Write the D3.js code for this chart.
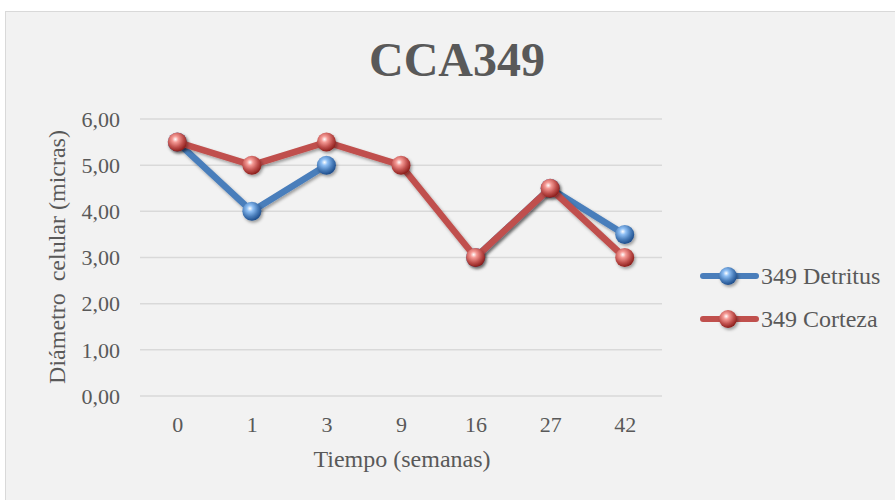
<!DOCTYPE html>
<html>
<head>
<meta charset="utf-8">
<script src="https://cdn.jsdelivr.net/npm/d3@7"></script>
<style>
  body { margin: 0; background: #fff; }
  text { font-family: "Liberation Serif", "Times New Roman", serif; fill: #595959; }
</style>
</head>
<body>
<div id="chart"></div>
<script>
// data
let weeks = ["0", "1", "3", "9", "16", "27", "42"]
let detritus = [5.5, 4.0, 5.0, null, 3.0, 4.5, 3.5]
let corteza = [5.5, 5.0, 5.5, 5.0, 3.0, 4.5, 3.0]
let yTicks = [0, 1, 2, 3, 4, 5, 6]

let series = [
  { name: "349 Detritus", values: detritus, color: "#4a7ebb", grad: "gBlue", light: "#8fc0f5", dark: "#1f4e8c" },
  { name: "349 Corteza", values: corteza, color: "#c0504d", grad: "gRed", light: "#f59a95", dark: "#8c1f1c" }
]

let W = 895, H = 500

let svg = d3.select("#chart").append("svg")
  .attr("width", W)
  .attr("height", H)

let defs = svg.append("defs")
series.forEach(s => {
  let g = defs.append("radialGradient")
    .attr("id", s.grad)
    .attr("cx", "40%").attr("cy", "35%").attr("r", "65%")
  g.append("stop").attr("offset", "0%").attr("stop-color", "#ffffff")
  g.append("stop").attr("offset", "25%").attr("stop-color", s.light)
  g.append("stop").attr("offset", "65%").attr("stop-color", s.color)
  g.append("stop").attr("offset", "100%").attr("stop-color", s.dark)
})
let f = defs.append("filter").attr("id", "shadow")
  .attr("x", "-50%").attr("y", "-50%").attr("width", "200%").attr("height", "200%")
f.append("feDropShadow")
  .attr("dx", 1.5).attr("dy", 2).attr("stdDeviation", 1.5)
  .attr("flood-color", "#000").attr("flood-opacity", 0.35)

// chart area background
svg.append("rect")
  .attr("x", 5.5).attr("y", 11.5)
  .attr("width", W).attr("height", H)
  .attr("fill", "#f2f2f2")
  .attr("stroke", "#d9d9d9")

// scales
let x = d3.scalePoint()
  .domain(weeks)
  .range([140, 662])
  .padding(0.5)

let y = d3.scaleLinear()
  .domain([0, 6])
  .range([396, 119])

// gridlines
svg.append("g")
  .selectAll("line")
  .data(yTicks)
  .enter()
  .append("line")
  .attr("x1", 140).attr("x2", 662)
  .attr("y1", d => y(d)).attr("y2", d => y(d))
  .attr("stroke", "#d9d9d9")
  .attr("stroke-width", 1.5)

// y axis labels
let fmt = d => d.toFixed(2).replace(".", ",")
let yAxis = svg.append("g")
  .attr("transform", "translate(120,0)")
  .call(d3.axisLeft(y).tickValues(yTicks).tickFormat(fmt).tickSize(0).tickPadding(0))
yAxis.select(".domain").remove()
yAxis.selectAll("text")
  .attr("font-size", 22)
  .attr("dy", "0.33em")

// x axis labels
let xAxis = svg.append("g")
  .attr("transform", "translate(0,432)")
  .call(d3.axisBottom(x).tickSize(0).tickPadding(0))
xAxis.select(".domain").remove()
xAxis.selectAll("text")
  .attr("font-size", 22)
  .attr("dy", "0em")

// titles
svg.append("text")
  .attr("x", 457).attr("y", 76)
  .attr("text-anchor", "middle")
  .attr("font-size", 48)
  .attr("font-weight", "bold")
  .text("CCA349")

svg.append("text")
  .attr("x", 402).attr("y", 467)
  .attr("text-anchor", "middle")
  .attr("font-size", 24)
  .text("Tiempo (semanas)")

svg.append("text")
  .attr("transform", "translate(65,257) rotate(-90)")
  .attr("text-anchor", "middle")
  .attr("font-size", 24)
  .style("white-space", "pre")
  .text("Diámetro  celular (micras)")

// lines
let line = d3.line()
  .defined(d => d.v != null)
  .x(d => x(d.k))
  .y(d => y(d.v))

series.forEach(s => {
  let pts = weeks.map((k, i) => ({ k: k, v: s.values[i] }))
  let g = svg.append("g")
  g.append("path")
    .attr("d", line(pts))
    .attr("fill", "none")
    .attr("stroke", s.color)
    .attr("stroke-width", 6.5)
    .attr("stroke-linejoin", "round")
    .attr("filter", "url(#shadow)")
  g.selectAll("circle")
    .data(pts.filter(d => d.v != null))
    .enter()
    .append("circle")
    .attr("cx", d => x(d.k))
    .attr("cy", d => y(d.v))
    .attr("r", 9.5)
    .attr("fill", "url(#" + s.grad + ")")
    .attr("filter", "url(#shadow)")
})

// legend
let legend = svg.append("g")
  .selectAll("g")
  .data(series)
  .enter()
  .append("g")
  .attr("transform", (d, i) => "translate(700," + (276 + i * 43) + ")")
legend.append("line")
  .attr("x1", 3).attr("x2", 56)
  .attr("stroke", d => d.color)
  .attr("stroke-width", 6)
  .attr("stroke-linecap", "round")
legend.append("circle")
  .attr("cx", 28).attr("r", 9)
  .attr("fill", d => "url(#" + d.grad + ")")
  .attr("filter", "url(#shadow)")
legend.append("text")
  .attr("x", 61).attr("y", 8)
  .attr("font-size", 24)
  .text(d => d.name)
</script>
</body>
</html>
